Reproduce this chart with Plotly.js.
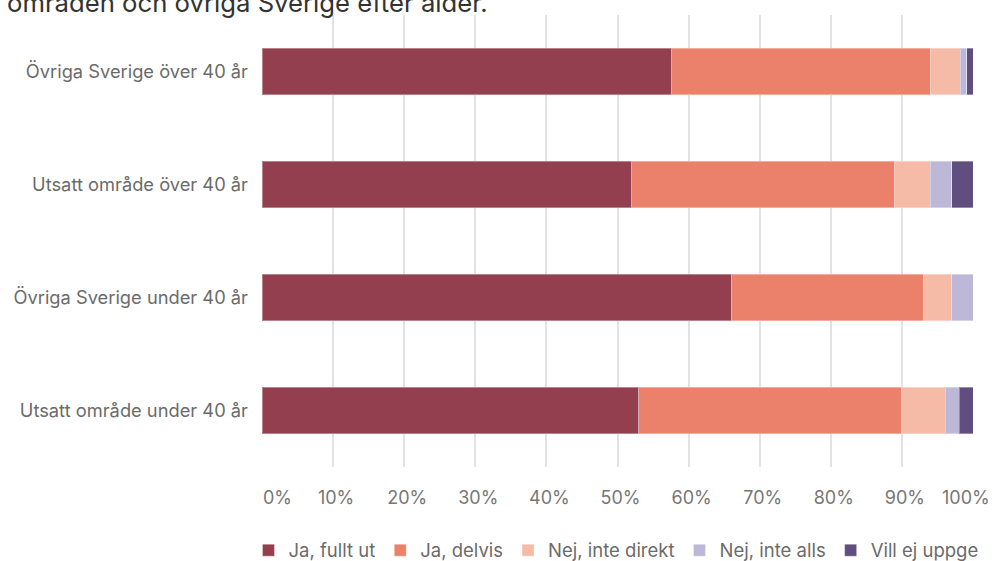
<!DOCTYPE html>
<html>
<head>
<meta charset="utf-8">
<script src="https://cdn.plot.ly/plotly-3.0.1.min.js"></script>
<style>html,body{margin:0;padding:0;background:#fff;}#chart{width:992px;height:561px;}</style>
</head>
<body>
<div id="chart"></div>
<script>
const categories = [
  "Övriga Sverige över 40 år",
  "Utsatt område över 40 år",
  "Övriga Sverige under 40 år",
  "Utsatt område under 40 år"
];
const seriesNames = ["Ja, fullt ut", "Ja, delvis", "Nej, inte direkt", "Nej, inte alls", "Vill ej uppge"];
const jaFulltUt     = [57.6, 52.0, 66.0, 53.0];
const jaDelvis      = [36.4, 37.0, 27.0, 37.0];
const nejInteDirekt = [4.2, 5.0, 4.0, 6.1];
const nejInteAlls   = [0.9, 3.0, 3.0, 2.0];
const villEjUppge   = [0.9, 3.0, 0.0, 1.9];
const tickValues = [0, 10, 20, 30, 40, 50, 60, 70, 80, 90, 100];
const tickLabels = ["", "10%", "20%", "30%", "40%", "50%", "60%", "70%", "80%", "90%", ""];
const titleText = "områden och övriga Sverige efter ålder.";

const colors = ["#933F4F", "#EB816A", "#F6BBA7", "#BDB8D7", "#5F4E7E"];
const values = [jaFulltUt, jaDelvis, nejInteDirekt, nejInteAlls, villEjUppge];
const FONT = "Inter, 'Open Sans', sans-serif";

const traces = values.map((v, i) => ({
  type: "bar",
  orientation: "h",
  name: seriesNames[i],
  y: categories,
  x: v,
  marker: {color: colors[i], line: {color: "rgba(255,255,255,0.35)", width: 1}},
  hoverinfo: "skip"
}));

const layout = {
  width: 992, height: 561,
  margin: {l: 262, r: 19, t: 15, b: 94, pad: 0, autoexpand: false},
  barmode: "stack",
  bargap: 0.59,
  paper_bgcolor: "#fff", plot_bgcolor: "#fff",
  font: {family: FONT, color: "#6b6b6b", size: 18},
  showlegend: true,
  legend: {
    orientation: "h", x: -0.019, xanchor: "left", y: -0.143, yanchor: "top",
    font: {family: FONT, size: 18.5, color: "#6b6b6b"},
    traceorder: "normal", itemclick: false, itemdoubleclick: false
  },
  xaxis: {
    range: [0, 100], tickvals: tickValues, ticktext: tickLabels,
    showgrid: true, gridcolor: "#e2e2e2", gridwidth: 2,
    zeroline: false, showline: false, ticks: "", automargin: false,
    tickfont: {family: FONT, size: 18, color: "#777"},
    ticklabelstandoff: 18, ticklabelshift: 3, fixedrange: true
  },
  yaxis: {
    autorange: "reversed", showgrid: false, zeroline: false, showline: false, ticks: "", automargin: false,
    tickfont: {family: FONT, size: 18.3, color: "#6b6b6b"},
    ticklabelstandoff: 13, fixedrange: true
  },
  annotations: [
    {text: titleText, xref: "paper", yref: "paper", x: -0.3615, y: 1, yshift: -5, xanchor: "left", yanchor: "bottom",
     showarrow: false, font: {family: FONT, size: 25.7, color: "#333"}},
    {text: "0%", xref: "x", yref: "paper", x: 0, y: 0, yshift: -18, xshift: -1, xanchor: "left", yanchor: "top",
     showarrow: false, font: {family: FONT, size: 18, color: "#777"}},
    {text: "100%", xref: "x", yref: "paper", x: 100, y: 0, yshift: -18, xshift: 19, xanchor: "right", yanchor: "top",
     showarrow: false, font: {family: FONT, size: 18, color: "#777"}}
  ]
};

Plotly.newPlot("chart", traces, layout, {displayModeBar: false, staticPlot: true});
</script>
</body>
</html>
